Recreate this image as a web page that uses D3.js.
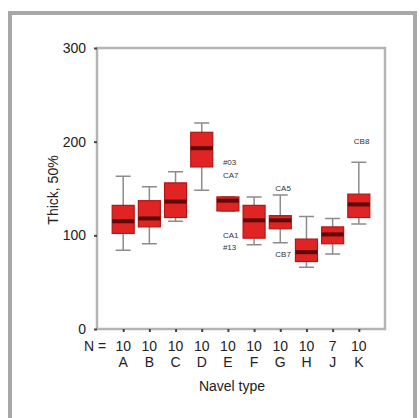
<!DOCTYPE html>
<html>
<head>
<meta charset="utf-8">
<script src="https://cdn.jsdelivr.net/npm/d3@7"></script>
<style>
  body { margin: 0; background: #fff; }
  svg { display: block; font-family: "Liberation Sans", Arial, sans-serif; }
</style>
</head>
<body>
<script>
const categories = ['A', 'B', 'C', 'D', 'E', 'F', 'G', 'H', 'J', 'K'];
const counts = [10, 10, 10, 10, 10, 10, 10, 10, 7, 10];
const whiskerLow = [84, 91, 115, 148, 126, 90, 92, 66, 80, 112];
const q1 = [102, 109, 119, 173, 126, 97, 107, 72, 91, 119];
const median = [115, 118, 136, 193, 137, 116, 116, 82, 101, 133];
const q3 = [132, 137, 156, 210, 141, 132, 121, 96, 109, 144];
const whiskerHigh = [163, 152, 168, 220, 141, 141, 143, 120, 118, 178];

const outlierCat = ['E', 'E', 'E', 'E', 'G', 'G', 'K'];
const outlierVal = [178, 164, 100, 87, 150, 80, 201];
const outlierLabel = ['#03', 'CA7', 'CA1', '#13', 'CA5', 'CB7', 'CB8'];

const yTicks = [0, 100, 200, 300];

const svgWidth = 420, svgHeight = 418;
const plotLeft = 97, plotRight = 385, plotTop = 48, plotBottom = 329;

const svg = d3.select('body').append('svg')
    .attr('width', svgWidth)
    .attr('height', svgHeight);

// outer frame
svg.append('rect')
    .attr('x', 10).attr('y', 13)
    .attr('width', 405).attr('height', 420)
    .attr('fill', 'none')
    .attr('stroke', '#a8a8a8')
    .attr('stroke-width', 4);

const x = d3.scalePoint()
    .domain(categories)
    .range([plotLeft, plotRight])
    .padding(1);

const y = d3.scaleLinear()
    .domain([0, 300])
    .range([plotBottom, plotTop]);

// plot frame
svg.append('rect')
    .attr('x', plotLeft).attr('y', plotTop)
    .attr('width', plotRight - plotLeft).attr('height', plotBottom - plotTop)
    .attr('fill', 'none')
    .attr('stroke', '#b4b4b4')
    .attr('stroke-width', 2.5);

// y axis
const yAxis = svg.append('g')
    .attr('transform', `translate(${plotLeft},0)`)
    .call(d3.axisLeft(y).tickValues(yTicks).tickSize(3).tickPadding(8));
yAxis.select('.domain').remove();
yAxis.selectAll('.tick line').attr('stroke', '#444').attr('stroke-width', 2);
yAxis.selectAll('.tick text').attr('font-size', 14).attr('fill', '#222')
    .attr('font-family', '"Liberation Sans", Arial, sans-serif');

// x axis ticks
const xAxis = svg.append('g')
    .attr('transform', `translate(0,${plotBottom})`)
    .call(d3.axisBottom(x).tickSize(3).tickFormat(''));
xAxis.select('.domain').remove();
xAxis.selectAll('.tick line').attr('stroke', '#444').attr('stroke-width', 2);

const rows = categories.map((c, i) => ({
  c, n: counts[i], lo: whiskerLow[i], q1: q1[i], med: median[i], q3: q3[i], hi: whiskerHigh[i]
}));

const boxW = 22, capW = 15;

const g = svg.append('g');

// whiskers
g.selectAll('.whisker')
    .data(rows)
    .enter()
    .append('path')
    .attr('d', d => {
      const cx = x(d.c);
      return `M${cx},${y(d.hi)}V${y(d.q3)}M${cx},${y(d.q1)}V${y(d.lo)}` +
        `M${cx - capW / 2},${y(d.hi)}H${cx + capW / 2}` +
        `M${cx - capW / 2},${y(d.lo)}H${cx + capW / 2}`;
    })
    .attr('stroke', '#8c8c8c')
    .attr('stroke-width', 1.5)
    .attr('fill', 'none');

// boxes
g.selectAll('.box')
    .data(rows)
    .enter()
    .append('rect')
    .attr('x', d => x(d.c) - boxW / 2)
    .attr('y', d => y(d.q3))
    .attr('width', boxW)
    .attr('height', d => y(d.q1) - y(d.q3))
    .attr('fill', '#e02424')
    .attr('stroke', '#b31616')
    .attr('stroke-width', 1.2);

// medians
g.selectAll('.median')
    .data(rows)
    .enter()
    .append('line')
    .attr('x1', d => x(d.c) - boxW / 2)
    .attr('x2', d => x(d.c) + boxW / 2)
    .attr('y1', d => y(d.med))
    .attr('y2', d => y(d.med))
    .attr('stroke', '#5c0a0a')
    .attr('stroke-width', 4);

// outlier labels
g.selectAll('.outlier')
    .data(outlierVal)
    .enter()
    .append('text')
    .attr('x', (d, i) => x(outlierCat[i]) - 5)
    .attr('y', d => y(d))
    .attr('dy', '0.35em')
    .attr('font-size', 8)
    .attr('fill', '#333')
    .text((d, i) => outlierLabel[i]);

// N row
svg.append('text')
    .attr('x', 84).attr('y', 351)
    .attr('font-size', 14).attr('fill', '#222')
    .text('N =');

svg.selectAll('.ncount')
    .data(rows)
    .enter()
    .append('text')
    .attr('x', d => x(d.c))
    .attr('y', 351)
    .attr('text-anchor', 'middle')
    .attr('font-size', 14).attr('fill', '#222')
    .text(d => d.n);

svg.selectAll('.cat')
    .data(rows)
    .enter()
    .append('text')
    .attr('x', d => x(d.c))
    .attr('y', 367)
    .attr('text-anchor', 'middle')
    .attr('font-size', 14).attr('fill', '#222')
    .text(d => d.c);

svg.append('text')
    .attr('x', 232).attr('y', 391)
    .attr('text-anchor', 'middle')
    .attr('font-size', 14).attr('fill', '#222')
    .text('Navel type');

svg.append('text')
    .attr('transform', 'translate(58,190) rotate(-90)')
    .attr('text-anchor', 'middle')
    .attr('font-size', 14).attr('fill', '#222')
    .text('Thick, 50%');
</script>
</body>
</html>
